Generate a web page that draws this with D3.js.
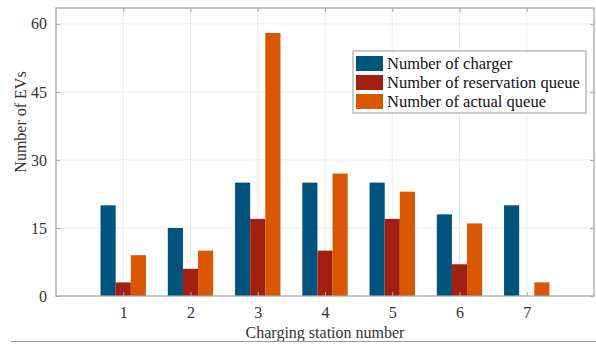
<!DOCTYPE html>
<html>
<head>
<meta charset="utf-8">
<script src="https://cdn.jsdelivr.net/npm/d3@7"></script>
<style>
  body { margin: 0; background: #fff; }
  text { font-family: "Liberation Serif", "Times New Roman", Times, serif; }
</style>
</head>
<body>
<svg id="chart" width="596" height="347"></svg>
<script>
// chart values
const stations = [1, 2, 3, 4, 5, 6, 7];
const seriesNames = ['Number of charger', 'Number of reservation queue', 'Number of actual queue'];
const chargers = [20, 15, 25, 25, 25, 18, 20];
const reservationQueue = [3, 6, 17, 10, 17, 7, 0];
const actualQueue = [9, 10, 58, 27, 23, 16, 3];
const yTicks = [0, 15, 30, 45, 60];
const xTicks = [1, 2, 3, 4, 5, 6, 7];

const colors = ['#00537c', '#a31f0f', '#d95700'];
const series = [chargers, reservationQueue, actualQueue];

const svg = d3.select('svg#chart');
const plot = { left: 56, top: 8, right: 594, bottom: 296 };

const xScale = d3.scaleLinear().domain([0, 8]).range([plot.left, plot.right]);
const yScale = d3.scaleLinear().domain([0, 63.5]).range([plot.bottom, plot.top]);

// grid
const grid = svg.append('g');
grid.selectAll('.gx').data(xTicks).enter().append('line')
  .attr('x1', d => xScale(d)).attr('x2', d => xScale(d))
  .attr('y1', plot.top).attr('y2', plot.bottom)
  .attr('stroke', '#ebebeb').attr('stroke-width', 1);
grid.selectAll('.gy').data(yTicks.filter(d => d > 0)).enter().append('line')
  .attr('x1', plot.left).attr('x2', plot.right)
  .attr('y1', d => yScale(d)).attr('y2', d => yScale(d))
  .attr('stroke', '#ebebeb').attr('stroke-width', 1);

// bars
const barW = 0.225;
const offsets = [-1, 0, 1];
series.forEach((vals, i) => {
  svg.append('g').selectAll('rect')
    .data(stations).enter().append('rect')
    .attr('x', d => xScale(d + (offsets[i] - 0.5) * barW))
    .attr('width', xScale(barW) - xScale(0))
    .attr('y', (d, j) => yScale(vals[j]))
    .attr('height', (d, j) => yScale(0) - yScale(vals[j]))
    .attr('fill', colors[i]);
});

// axes
const axisColor = '#a6a6a6';
const styleAxis = g => {
  g.attr('font-family', null).attr('font-size', 16);
  g.select('.domain').remove();
  g.selectAll('.tick line').attr('stroke', axisColor);
  g.selectAll('.tick text').attr('fill', '#333');
};
svg.append('g')
  .attr('transform', 'translate(0,' + plot.bottom + ')')
  .call(d3.axisBottom(xScale).tickValues(xTicks).tickSizeInner(-4).tickSizeOuter(0).tickPadding(11))
  .call(styleAxis);
svg.append('g')
  .attr('transform', 'translate(0,' + plot.top + ')')
  .call(d3.axisTop(xScale).tickValues(xTicks).tickSizeInner(-4).tickSizeOuter(0).tickFormat(''))
  .call(styleAxis);
svg.append('g')
  .attr('transform', 'translate(' + plot.left + ',0)')
  .call(d3.axisLeft(yScale).tickValues(yTicks).tickSizeInner(-4).tickSizeOuter(0).tickPadding(9))
  .call(styleAxis);
svg.append('g')
  .attr('transform', 'translate(' + plot.right + ',0)')
  .call(d3.axisRight(yScale).tickValues(yTicks).tickSizeInner(-4).tickSizeOuter(0).tickFormat(''))
  .call(styleAxis);

// box
svg.append('rect')
  .attr('x', plot.left).attr('y', plot.top)
  .attr('width', plot.right - plot.left).attr('height', plot.bottom - plot.top)
  .attr('fill', 'none').attr('stroke', axisColor).attr('stroke-width', 1.3);

// axis labels
svg.append('text')
  .attr('x', 325).attr('y', 337.5)
  .attr('text-anchor', 'middle').attr('fill', '#333').attr('font-size', 16)
  .text('Charging station number');
svg.append('text')
  .attr('transform', 'translate(26,122) rotate(-90)')
  .attr('text-anchor', 'middle').attr('fill', '#333').attr('font-size', 16)
  .text('Number of EVs');

// legend
const legend = svg.append('g');
legend.append('rect')
  .attr('x', 353).attr('y', 51).attr('width', 233).attr('height', 62)
  .attr('fill', '#fff').attr('stroke', '#999').attr('stroke-width', 1);
seriesNames.forEach((name, i) => {
  legend.append('rect')
    .attr('x', 356).attr('y', 56 + i * 19).attr('width', 27).attr('height', 15)
    .attr('fill', colors[i]);
  legend.append('text')
    .attr('x', 387).attr('y', 68.5 + i * 19)
    .attr('fill', '#111').attr('font-size', 16.5)
    .text(name);
});

// bottom figure edge line
svg.append('line')
  .attr('x1', 11).attr('x2', 596).attr('y1', 341.5).attr('y2', 341.5)
  .attr('stroke', '#999').attr('stroke-width', 1);
</script>
</body>
</html>
